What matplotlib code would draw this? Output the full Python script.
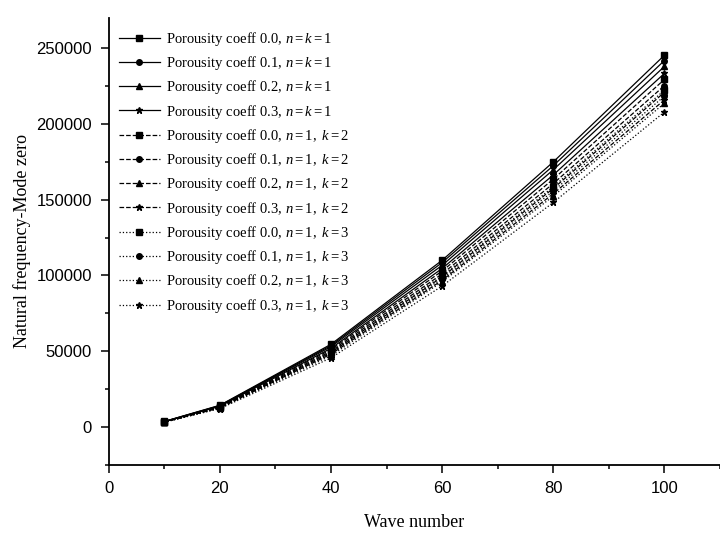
import matplotlib.pyplot as plt
from matplotlib.ticker import MultipleLocator

plt.rcParams["mathtext.fontset"] = "custom"
plt.rcParams["mathtext.rm"] = "Liberation Serif"
plt.rcParams["mathtext.it"] = "Liberation Serif:italic"

# wave numbers
wave = [10, 20, 40, 60, 80, 100]

# natural frequency, mode zero
# n=k=1
k1_p00 = [3500, 14200, 54500, 110000, 175000, 245500]
k1_p01 = [3450, 14000, 53700, 108500, 172500, 242000]
k1_p02 = [3400, 13800, 52900, 106700, 169800, 238100]
k1_p03 = [3330, 13500, 51800, 104600, 166400, 233500]
# n=1, k=2
k2_p00 = [3270, 13300, 51000, 102900, 163600, 229500]
k2_p01 = [3210, 13000, 50000, 101000, 160700, 225400]
k2_p02 = [3150, 12800, 49000, 99000, 157500, 221000]
k2_p03 = [3080, 12500, 48000, 96800, 154000, 216000]
# n=1, k=3
k3_p00 = [3170, 12900, 49400, 99700, 158600, 222400]
k3_p01 = [3120, 12600, 48500, 97900, 155800, 218500]
k3_p02 = [3050, 12400, 47000, 95800, 152400, 213800]
k3_p03 = [2970, 12000, 45500, 93000, 148200, 208000]

porosity = ["0.0", "0.1", "0.2", "0.3"]
markers = ["s", "o", "^", "*"]
groups = [
    ("-", r"$\mathit{n=k=1}$", [k1_p00, k1_p01, k1_p02, k1_p03]),
    ("--", r"$\mathit{n=1},\ \mathit{k=2}$", [k2_p00, k2_p01, k2_p02, k2_p03]),
    (":", r"$\mathit{n=1},\ \mathit{k=3}$", [k3_p00, k3_p01, k3_p02, k3_p03]),
]

fig = plt.figure(figsize=(7.2, 5.34), dpi=100)
ax = fig.add_axes([0.151, 0.130, 0.849, 0.836])

for ls, tag, series in groups:
    for p, mk, vals in zip(porosity, markers, series):
        ax.plot(wave, vals, linestyle=ls, color="black", lw=0.9,
                marker=mk, markersize=4 if mk != "*" else 5,
                label="Porousity coeff " + p + ", " + tag)

ax.set_xlim(0, 110)
ax.set_ylim(-25000, 270000)
ax.xaxis.set_major_locator(MultipleLocator(20))
ax.xaxis.set_minor_locator(MultipleLocator(10))
ax.yaxis.set_major_locator(MultipleLocator(50000))
ax.yaxis.set_minor_locator(MultipleLocator(25000))
ax.spines["top"].set_visible(False)
ax.spines["right"].set_visible(False)
ax.spines["left"].set_linewidth(1.3)
ax.spines["bottom"].set_linewidth(1.3)
ax.tick_params(which="major", direction="out", length=6, width=1.1,
               labelsize=12, pad=6)
ax.tick_params(which="minor", direction="out", length=3, width=1.1)
for lab in ax.get_xticklabels() + ax.get_yticklabels():
    lab.set_fontfamily("Liberation Sans")

ax.set_xlabel("Wave number", fontfamily="Liberation Serif", fontsize=13,
              labelpad=13)
ax.set_ylabel("Natural frequency-Mode zero", fontfamily="Liberation Serif",
              fontsize=13, labelpad=4)

leg = ax.legend(loc="upper left", bbox_to_anchor=(0.0, 0.997), frameon=False,
                prop={"family": "Liberation Serif", "size": 10.5},
                numpoints=1, handlelength=2.8, handletextpad=0.4,
                labelspacing=0.43, borderaxespad=0.3)

fig.savefig("out.png", dpi=100)
